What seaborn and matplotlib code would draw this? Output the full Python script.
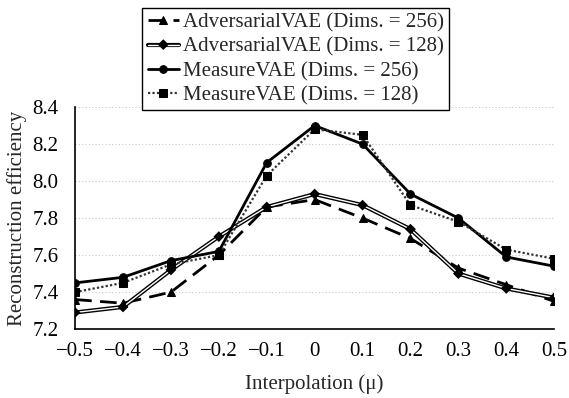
import numpy as np
import pandas as pd
import matplotlib
matplotlib.use('Agg')
import matplotlib.pyplot as plt
import matplotlib.patheffects as pe
import seaborn as sns

# interpolation positions
mu = [-0.5, -0.4, -0.3, -0.2, -0.1, 0.0, 0.1, 0.2, 0.3, 0.4, 0.5]
tick_labels = ['\u22120.5', '\u22120.4', '\u22120.3', '\u22120.2', '\u22120.1', '0',
               '0.1', '0.2', '0.3', '0.4', '0.5']

adv_256 = [7.36, 7.34, 7.40, 7.60, 7.86, 7.90, 7.80, 7.69, 7.53, 7.44, 7.35]
adv_128 = [7.29, 7.32, 7.52, 7.70, 7.86, 7.93, 7.87, 7.74, 7.50, 7.42, 7.37]
mvae_256 = [7.45, 7.48, 7.57, 7.62, 8.10, 8.30, 8.20, 7.93, 7.80, 7.59, 7.54]
mvae_128 = [7.40, 7.45, 7.55, 7.60, 8.03, 8.28, 8.25, 7.87, 7.78, 7.63, 7.58]

sns.set_theme(style="white")
plt.rcParams['font.family'] = ['Liberation Serif', 'DejaVu Serif']

FS = 15

fig = plt.figure(figsize=(5.69, 3.98), dpi=100)
ax = fig.add_axes([0.132, 0.173, 0.842, 0.558])

sns.lineplot(x=mu, y=adv_256, ax=ax, color='black', linewidth=2.0,
             linestyle=(0, (6, 3)), marker='^', markersize=6,
             markeredgecolor='black', label='AdversarialVAE (Dims. = 256)')
sns.lineplot(x=mu, y=adv_128, ax=ax, color='white', linewidth=1.0,
             marker='D', markersize=2.5, markerfacecolor='black',
             markeredgecolor='black', label='AdversarialVAE (Dims. = 128)',
             path_effects=[pe.Stroke(linewidth=3.0, foreground='black'), pe.Normal()])
sns.lineplot(x=mu, y=mvae_256, ax=ax, color='black', linewidth=2.0,
             marker='o', markersize=5.5, markeredgecolor='black',
             label='MeasureVAE (Dims. = 256)')
sns.lineplot(x=mu, y=mvae_128, ax=ax, color='#333333', linewidth=1.6,
             linestyle=(0, (1, 1)), marker='s', markersize=5.5,
             markerfacecolor='black', markeredgecolor='black',
             label='MeasureVAE (Dims. = 128)')

ax.set_xlim(-0.5, 0.5)
ax.set_ylim(7.2, 8.4)
ax.set_xticks(mu)
ax.set_xticklabels(tick_labels)
ax.set_yticks([7.2, 7.4, 7.6, 7.8, 8.0, 8.2, 8.4])
ax.set_yticklabels(['7.2', '7.4', '7.6', '7.8', '8.0', '8.2', '8.4'])
ax.yaxis.grid(True, color='#c8c8c8', linestyle=(0, (1, 2)), linewidth=0.8)
ax.xaxis.grid(False)
for side in ['top', 'right']:
    ax.spines[side].set_visible(False)
for side in ['left', 'bottom']:
    ax.spines[side].set_color('black')
    ax.spines[side].set_linewidth(1.2)
ax.tick_params(axis='x', direction='in', length=5, width=1, labelsize=FS, pad=9, colors='black')
ax.tick_params(axis='y', direction='in', length=4, width=1, labelsize=FS, pad=12, colors='black')
ax.set_xlabel('Interpolation (\u03bc)', fontsize=FS, labelpad=10)
ax.set_ylabel('Reconstruction efficiency', fontsize=FS, labelpad=4)

ax.legend(loc='upper center', bbox_to_anchor=(0.52, 0.98), bbox_transform=fig.transFigure,
          fontsize=FS, frameon=True, fancybox=False, edgecolor='black', framealpha=1,
          handlelength=1.5, handletextpad=0.2, labelspacing=0.22, borderpad=0.25,
          borderaxespad=0)
ax.get_legend().get_frame().set_linewidth(1.0)

fig.savefig('out.png', dpi=100)
